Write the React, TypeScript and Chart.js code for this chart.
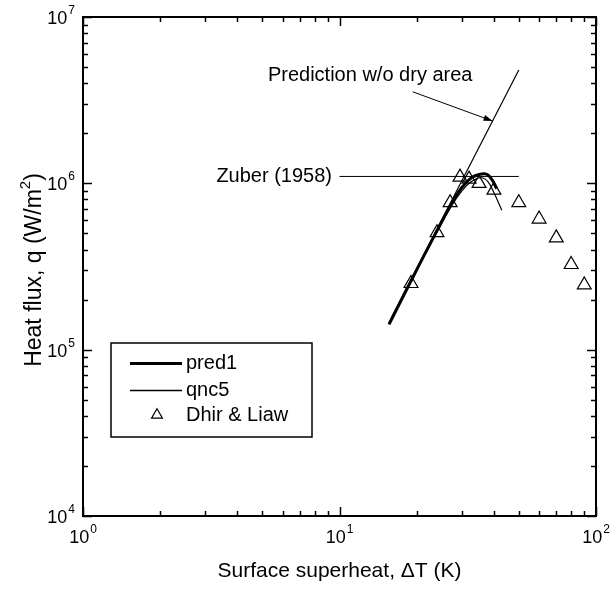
import { useEffect, useRef } from "react";
import { Chart, registerables } from "chart.js";

Chart.register(...registerables);

// Dhir & Liaw experimental points: surface superheat (K) vs heat flux (W/m^2)
const dhirT = [19, 24, 27, 29.5, 32, 35, 40, 50, 60, 70, 80, 90];
const dhirQ = [2.5e5, 5.05e5, 7.65e5, 1.09e6, 1.06e6, 1.0e6, 9.1e5, 7.65e5, 6.1e5, 4.7e5, 3.25e5, 2.45e5];

// pred1 model curve
const pred1T = [15.6, 18, 21, 24, 27, 29, 31, 33, 35, 36.6, 38, 39.5, 41];
const pred1Q = [1.42e5, 2.2e5, 3.5e5, 5.2e5, 7.3e5, 8.8e5, 1.0e6, 1.09e6, 1.13e6, 1.14e6, 1.12e6, 1.04e6, 9.3e5];

// qnc5 model curve
const qnc5T = [15.6, 18, 21, 24, 27, 30, 32, 34, 35.5, 37, 38.5, 40.4, 42.9];
const qnc5Q = [1.42e5, 2.2e5, 3.5e5, 5.1e5, 7.1e5, 9.0e5, 1.0e6, 1.06e6, 1.08e6, 1.06e6, 9.9e5, 8.5e5, 6.9e5];

// prediction without dry area (straight line on log-log axes)
const noDryT = [15.5, 50];
const noDryQ = [1.43e5, 4.8e6];

// Zuber (1958) critical heat flux
const zuberT = [10, 50];
const zuberQ = [1.1e6, 1.1e6];

// axis decades
const xExps = [0, 1, 2];
const yExps = [4, 5, 6, 7];

const FONT = '"Liberation Sans", Arial, Helvetica, sans-serif';

const pts = (xs: number[], ys: number[]) => xs.map((x, i) => ({ x, y: ys[i] }));

function drawPow(ctx: CanvasRenderingContext2D, exp: number, x: number, y: number, align: "center" | "right") {
  ctx.font = `18px ${FONT}`;
  const wb = ctx.measureText("10").width;
  ctx.font = `12px ${FONT}`;
  const we = ctx.measureText(String(exp)).width;
  const total = wb + we + 1;
  const left = align === "center" ? x - total / 2 : x - total;
  ctx.textAlign = "left";
  ctx.textBaseline = "alphabetic";
  ctx.font = `18px ${FONT}`;
  ctx.fillText("10", left, y);
  ctx.font = `12px ${FONT}`;
  ctx.fillText(String(exp), left + wb + 1, y - 10);
}

const framePlugin = {
  id: "frame",
  afterDatasetsDraw(chart: any) {
    const { ctx, chartArea: a, scales } = chart;
    const xs = scales.x;
    const ys = scales.y;
    ctx.save();
    ctx.fillStyle = "#000";
    ctx.strokeStyle = "#000";

    // axis box
    ctx.lineWidth = 2;
    ctx.strokeRect(a.left, a.top, a.right - a.left, a.bottom - a.top);

    // ticks pointing inward on all four sides
    ctx.lineWidth = 1.5;
    const major = 9;
    const minor = 5;
    ctx.beginPath();
    for (let e = xExps[0]; e <= xExps[xExps.length - 1]; e++) {
      for (let m = 1; m <= 9; m++) {
        const v = m * Math.pow(10, e);
        if (v > Math.pow(10, xExps[xExps.length - 1])) break;
        const px = Math.round(xs.getPixelForValue(v)) + 0.5;
        const len = m === 1 ? major : minor;
        ctx.moveTo(px, a.bottom);
        ctx.lineTo(px, a.bottom - len);
        ctx.moveTo(px, a.top);
        ctx.lineTo(px, a.top + len);
      }
    }
    for (let e = yExps[0]; e <= yExps[yExps.length - 1]; e++) {
      for (let m = 1; m <= 9; m++) {
        const v = m * Math.pow(10, e);
        if (v > Math.pow(10, yExps[yExps.length - 1])) break;
        const py = Math.round(ys.getPixelForValue(v)) + 0.5;
        const len = m === 1 ? major : minor;
        ctx.moveTo(a.left, py);
        ctx.lineTo(a.left + len, py);
        ctx.moveTo(a.right, py);
        ctx.lineTo(a.right - len, py);
      }
    }
    ctx.stroke();

    // tick labels
    xExps.forEach((e) => drawPow(ctx, e, xs.getPixelForValue(Math.pow(10, e)), a.bottom + 27, "center"));
    yExps.forEach((e) => drawPow(ctx, e, a.left - 8, ys.getPixelForValue(Math.pow(10, e)) + 7, "right"));

    // axis titles
    ctx.font = `21px ${FONT}`;
    ctx.textAlign = "center";
    ctx.textBaseline = "middle";
    ctx.fillText("Surface superheat, \u0394T (K)", (a.left + a.right) / 2, 571);

    ctx.save();
    ctx.translate(33, 270);
    ctx.rotate(-Math.PI / 2);
    const t1 = "Heat flux, q (W/m";
    const t2 = ")";
    ctx.font = `23px ${FONT}`;
    const w1 = ctx.measureText(t1).width;
    const w3 = ctx.measureText(t2).width;
    ctx.font = `15px ${FONT}`;
    const w2 = ctx.measureText("2").width;
    const tot = w1 + w2 + w3;
    ctx.textAlign = "left";
    ctx.textBaseline = "alphabetic";
    ctx.font = `23px ${FONT}`;
    ctx.fillText(t1, -tot / 2, 8);
    ctx.fillText(t2, -tot / 2 + w1 + w2, 8);
    ctx.font = `15px ${FONT}`;
    ctx.fillText("2", -tot / 2 + w1, -3);
    ctx.restore();

    // annotations
    ctx.font = `20px ${FONT}`;
    ctx.textBaseline = "middle";
    ctx.textAlign = "left";
    ctx.fillText("Prediction w/o dry area", xs.getPixelForValue(5.26), ys.getPixelForValue(4.43e6));
    ctx.textAlign = "right";
    ctx.fillText("Zuber (1958)", xs.getPixelForValue(9.35), ys.getPixelForValue(zuberQ[0]));

    // arrow to the no-dry-area line
    const x0 = xs.getPixelForValue(19.3);
    const y0 = ys.getPixelForValue(3.55e6);
    const x1 = xs.getPixelForValue(39.5);
    const y1 = ys.getPixelForValue(2.37e6);
    ctx.lineWidth = 1;
    ctx.beginPath();
    ctx.moveTo(x0, y0);
    ctx.lineTo(x1, y1);
    ctx.stroke();
    const ang = Math.atan2(y1 - y0, x1 - x0);
    const hl = 9;
    const hw = 3;
    ctx.beginPath();
    ctx.moveTo(x1, y1);
    ctx.lineTo(x1 - hl * Math.cos(ang) + hw * Math.sin(ang), y1 - hl * Math.sin(ang) - hw * Math.cos(ang));
    ctx.lineTo(x1 - hl * Math.cos(ang) - hw * Math.sin(ang), y1 - hl * Math.sin(ang) + hw * Math.cos(ang));
    ctx.closePath();
    ctx.fill();

    // legend
    const lx = 111, ly = 343, lw = 201, lh = 94;
    ctx.fillStyle = "#fff";
    ctx.fillRect(lx, ly, lw, lh);
    ctx.fillStyle = "#000";
    ctx.lineWidth = 1.5;
    ctx.strokeRect(lx, ly, lw, lh);
    const ds = chart.data.datasets;
    ctx.font = `20px ${FONT}`;
    ctx.textAlign = "left";
    ctx.textBaseline = "middle";
    // pred1
    ctx.lineWidth = ds[0].borderWidth;
    ctx.beginPath();
    ctx.moveTo(130, 363.5);
    ctx.lineTo(182, 363.5);
    ctx.stroke();
    ctx.fillText(ds[0].label, 186, 363);
    // qnc5
    ctx.lineWidth = 1.3;
    ctx.beginPath();
    ctx.moveTo(130, 390.5);
    ctx.lineTo(182, 390.5);
    ctx.stroke();
    ctx.fillText(ds[1].label, 186, 390);
    // Dhir & Liaw
    const r = 6.3;
    ctx.lineWidth = 1.2;
    ctx.beginPath();
    ctx.moveTo(157, 415 - r);
    ctx.lineTo(157 + r * Math.sin((2 * Math.PI) / 3), 415 + r / 2);
    ctx.lineTo(157 - r * Math.sin((2 * Math.PI) / 3), 415 + r / 2);
    ctx.closePath();
    ctx.stroke();
    ctx.fillText(ds[4].label, 186, 415);

    ctx.restore();
  },
};

export default function App() {
  const ref = useRef<HTMLCanvasElement>(null);

  useEffect(() => {
    document.body.style.margin = "0";
    const canvas = ref.current!;
    const chart = new Chart(canvas, {
      type: "scatter",
      data: {
        datasets: [
          {
            label: "pred1",
            data: pts(pred1T, pred1Q),
            showLine: true,
            borderColor: "#000",
            borderWidth: 3,
            pointRadius: 0,
            cubicInterpolationMode: "monotone",
          },
          {
            label: "qnc5",
            data: pts(qnc5T, qnc5Q),
            showLine: true,
            borderColor: "#000",
            borderWidth: 1.2,
            pointRadius: 0,
            cubicInterpolationMode: "monotone",
          },
          {
            label: "no dry area",
            data: pts(noDryT, noDryQ),
            showLine: true,
            borderColor: "#000",
            borderWidth: 1.2,
            pointRadius: 0,
          },
          {
            label: "Zuber (1958)",
            data: pts(zuberT, zuberQ),
            showLine: true,
            borderColor: "#000",
            borderWidth: 1,
            pointRadius: 0,
          },
          {
            label: "Dhir & Liaw",
            data: pts(dhirT, dhirQ),
            showLine: false,
            pointStyle: "triangle",
            pointRadius: 8,
            pointBorderWidth: 1.2,
            pointBorderColor: "#000",
            pointBackgroundColor: "rgba(0,0,0,0)",
          },
        ],
      } as any,
      options: {
        responsive: false,
        animation: false,
        devicePixelRatio: 1,
        layout: { padding: { left: 83, right: 15, top: 17, bottom: 74 } },
        plugins: { legend: { display: false }, tooltip: { enabled: false } },
        scales: {
          x: { type: "logarithmic", min: 1, max: 100, display: false },
          y: { type: "logarithmic", min: 1e4, max: 1e7, display: false },
        },
      } as any,
      plugins: [framePlugin],
    });
    return () => chart.destroy();
  }, []);

  return (
    <canvas
      ref={ref}
      width={611}
      height={590}
      style={{ display: "block", width: 611, height: 590, background: "#fff" }}
    />
  );
}
